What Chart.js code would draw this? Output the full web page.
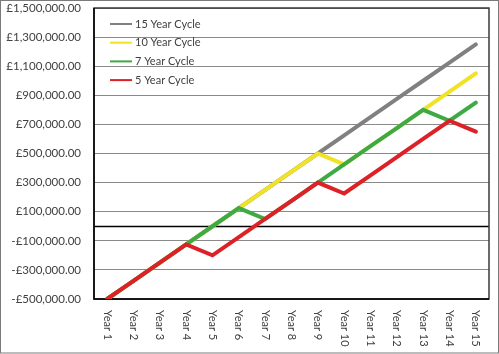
<!DOCTYPE html>
<html>
<head>
<meta charset="utf-8">
<script src="https://cdn.jsdelivr.net/npm/chart.js@4.4.0/dist/chart.umd.min.js"></script>
<style>
  html, body { margin: 0; padding: 0; background: #ffffff; }
  #wrap { width: 499px; height: 354px; position: relative; }
</style>
</head>
<body>
<div id="wrap"><canvas id="chart" width="499" height="354"></canvas></div>
<script>
// Chart data
const years = ['Year 1', 'Year 2', 'Year 3', 'Year 4', 'Year 5', 'Year 6', 'Year 7', 'Year 8',
  'Year 9', 'Year 10', 'Year 11', 'Year 12', 'Year 13', 'Year 14', 'Year 15'];
const cycle15 = [-500000, -375000, -250000, -125000, 0, 125000, 250000, 375000,
  500000, 625000, 750000, 875000, 1000000, 1125000, 1250000];
const cycle10 = [-500000, -375000, -250000, -125000, 0, 125000, 250000, 375000,
  500000, 425000, 550000, 675000, 800000, 925000, 1050000];
const cycle7 = [-500000, -375000, -250000, -125000, 0, 125000, 50000, 175000,
  300000, 425000, 550000, 675000, 800000, 725000, 850000];
const cycle5 = [-500000, -375000, -250000, -125000, -200000, -75000, 50000, 175000,
  300000, 225000, 350000, 475000, 600000, 725000, 650000];
const seriesNames = ['15 Year Cycle', '10 Year Cycle', '7 Year Cycle', '5 Year Cycle'];
const seriesColors = ['#808080', '#f0e226', '#3eaa44', '#dc2127'];

const FONT = "Lato, sans-serif";
const TEXT = '#404040';

const gbp = new Intl.NumberFormat('en-GB', { minimumFractionDigits: 2, maximumFractionDigits: 2 });
function money(v) {
  return (v < 0 ? '-£' : '£') + gbp.format(Math.abs(v));
}

// Excel-like extras: frame, zero line, rotated year labels, legend inside plot
const extras = {
  id: 'extras',
  beforeDatasetsDraw(chart) {
    const { ctx, chartArea: a, scales } = chart;
    const y0 = Math.round(scales.y.getPixelForValue(0)) + 0.5;
    ctx.save();
    ctx.strokeStyle = '#000000';
    ctx.lineWidth = 1.5;
    ctx.beginPath();
    ctx.moveTo(a.left, y0);
    ctx.lineTo(a.right, y0);
    ctx.stroke();
    // plot frame
    ctx.strokeStyle = '#3a3a3a';
    ctx.lineWidth = 1.5;
    ctx.strokeRect(a.left, a.top, a.right - a.left, a.bottom - a.top);
    ctx.strokeStyle = '#000000';
    ctx.beginPath();
    ctx.moveTo(a.left, a.top);
    ctx.lineTo(a.left, a.bottom);
    ctx.lineTo(a.right, a.bottom);
    ctx.stroke();
    ctx.restore();
  },
  afterDraw(chart) {
    const { ctx, chartArea: a, scales } = chart;
    ctx.save();
    // year labels, rotated clockwise
    ctx.fillStyle = TEXT;
    ctx.font = '11px ' + FONT;
    ctx.textAlign = 'left';
    ctx.textBaseline = 'middle';
    years.forEach((lab, i) => {
      const x = scales.x.getPixelForValue(i);
      ctx.save();
      ctx.translate(x, a.bottom + 11);
      ctx.rotate(Math.PI / 2);
      ctx.fillText(lab, 0, 0);
      ctx.restore();
    });
    // legend
    seriesNames.forEach((name, i) => {
      const y = a.top + 16 + i * 18.7;
      ctx.strokeStyle = seriesColors[i];
      ctx.lineWidth = 2;
      ctx.beginPath();
      ctx.moveTo(a.left + 16, y);
      ctx.lineTo(a.left + 38, y);
      ctx.stroke();
      ctx.fillStyle = TEXT;
      ctx.fillText(name, a.left + 41, y);
    });
    // outer chart border
    ctx.strokeStyle = '#7a7a7a';
    ctx.lineWidth = 1;
    ctx.strokeRect(0.5, 0.5, chart.width - 1, chart.height - 1.5);
    ctx.restore();
  }
};

const datasets = [cycle15, cycle10, cycle7, cycle5].map((vals, i) => ({
  label: seriesNames[i],
  data: vals,
  borderColor: seriesColors[i],
  backgroundColor: seriesColors[i],
  borderWidth: 4,
  borderCapStyle: 'round',
  pointRadius: 0,
  tension: 0,
  fill: false,
  order: 3 - i
}));

new Chart(document.getElementById('chart').getContext('2d'), {
  type: 'line',
  data: { labels: years, datasets: datasets },
  options: {
    responsive: false,
    animation: false,
    layout: { padding: { top: 8, right: 10, left: 0, bottom: 0 } },
    plugins: {
      legend: { display: false },
      tooltip: { enabled: false }
    },
    scales: {
      x: {
        offset: true,
        grid: { display: false, drawTicks: false },
        border: { display: false },
        ticks: { display: false },
        afterFit(scale) { scale.height = 55; }
      },
      y: {
        min: -500000,
        max: 1500000,
        grid: { color: '#8a8a8a', lineWidth: 1, drawTicks: false },
        border: { display: false },
        ticks: {
          stepSize: 200000,
          padding: 13,
          color: TEXT,
          font: { family: FONT, size: 11.5 },
          callback: (v) => money(v)
        },
        afterFit(scale) {
          scale.width = 94;
          scale.paddingTop = 0;
          scale.paddingBottom = 0;
        }
      }
    }
  },
  plugins: [extras]
});
</script>
</body>
</html>
